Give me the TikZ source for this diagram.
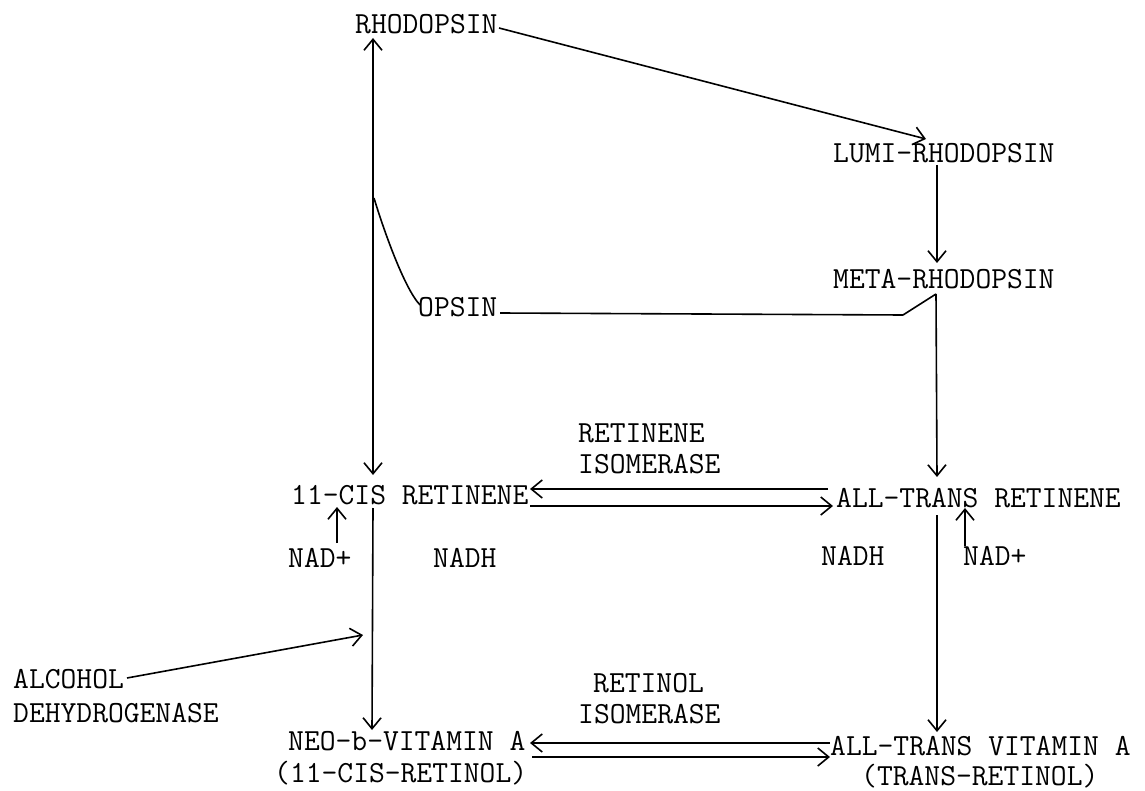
\documentclass[tikz,border=0pt]{standalone}
\usetikzlibrary{arrows.meta}
\begin{document}
\begin{tikzpicture}[x=1pt,y=-1pt,
  lbl/.style={anchor=base west, inner sep=0pt, font=\fontsize{30.7}{34}\selectfont\ttfamily},
  conn/.style={line width=1.6pt, line join=round},
  tip/.style={-{Straight Barb[length=11pt,width=18pt,line width=1.6pt]}},
  tips/.style={{Straight Barb[length=11pt,width=18pt,line width=1.6pt]}-{Straight Barb[length=11pt,width=18pt,line width=1.6pt]}}]
\useasboundingbox (0,0) rectangle (1145,791);
% texts
\node[lbl] (rhod) at (355,34) {RHODOPSIN};
\node[lbl] (lumi) at (833,163) {LUMI-RHODOPSIN};
\node[lbl] (meta) at (833,289) {META-RHODOPSIN};
\node[lbl] (opsin) at (418,317) {OPSIN};
\node[lbl] (cisret) at (291,504) {11-CIS RETINENE};
\node[lbl] (transret) at (836,507) {ALL-TRANS RETINENE};
\node[lbl] (ri1) at (578,442) {RETINENE};
\node[lbl] (ri2) at (578,473) {ISOMERASE};
\node[lbl] (nadl) at (288,567) {NAD+};
\node[lbl] (nadhl) at (433,567) {NADH};
\node[lbl] (nadhr) at (821,565) {NADH};
\node[lbl] (nadr) at (963,565) {NAD+};
\node[lbl] (alc1) at (13,688) {ALCOHOL};
\node[lbl] (alc2) at (13,722) {DEHYDROGENASE};
\node[lbl] (rol1) at (593,692) {RETINOL};
\node[lbl] (rol2) at (578,723) {ISOMERASE};
\node[lbl] (neo1) at (288,750) {NEO-b-VITAMIN A};
\node[lbl] (neo2) at (274,782) {(11-CIS-RETINOL)};
\node[lbl] (vit1) at (830,755) {ALL-TRANS VITAMIN A};
\node[lbl] (vit2) at (861,785) {(TRANS-RETINOL)};
% connector end points
\coordinate (rhodR) at (499,28);
\coordinate (lumiT) at (926,139);
\coordinate (rhodB) at (373,38);
\coordinate (cisT) at (373,475);
\coordinate (opsJ) at (374,198);
\coordinate (opsL) at (420,305);
\coordinate (opsR) at (500,313);
\coordinate (opsK) at (903,315);
\coordinate (metaB) at (936,294);
\coordinate (transT) at (937,477);
\coordinate (lumiB) at (937,165);
\coordinate (metaT) at (937,263);
\coordinate (cisR1) at (530,489);
\coordinate (transL1) at (828,489);
\coordinate (cisR2) at (530,506);
\coordinate (transL2) at (833,506);
\coordinate (transB) at (937,515);
\coordinate (vitT) at (937,732);
\coordinate (cisB) at (373,508);
\coordinate (neoT) at (372,730);
\coordinate (nadlT) at (337,543);
\coordinate (cisU) at (337,507);
\coordinate (nadrT) at (965,546);
\coordinate (transU) at (965,508);
\coordinate (alcR) at (127,678);
\coordinate (alcT) at (363,635);
\coordinate (neoR1) at (530,743);
\coordinate (vitL1) at (830,743);
\coordinate (neoR2) at (532,757);
\coordinate (vitL2) at (830,757);
% connectors
\draw[conn,tip] (rhodR) -- (lumiT);
\draw[conn,tips] (rhodB) -- (cisT);
\draw[conn] (opsJ) .. controls (383,228) and (404,288) .. (opsL);
\draw[conn] (opsR) -- (opsK) -- (metaB);
\draw[conn,tip] (metaB) -- (transT);
\draw[conn,tip] (lumiB) -- (metaT);
\draw[conn,tip] (transL1) -- (cisR1);
\draw[conn,tip] (cisR2) -- (transL2);
\draw[conn,tip] (transB) -- (vitT);
\draw[conn,tip] (cisB) -- (neoT);
\draw[conn,tip] (nadlT) -- (cisU);
\draw[conn,tip] (nadrT) -- (transU);
\draw[conn,tip] (alcR) -- (alcT);
\draw[conn,tip] (vitL1) -- (neoR1);
\draw[conn,tip] (neoR2) -- (vitL2);
\end{tikzpicture}
\end{document}
